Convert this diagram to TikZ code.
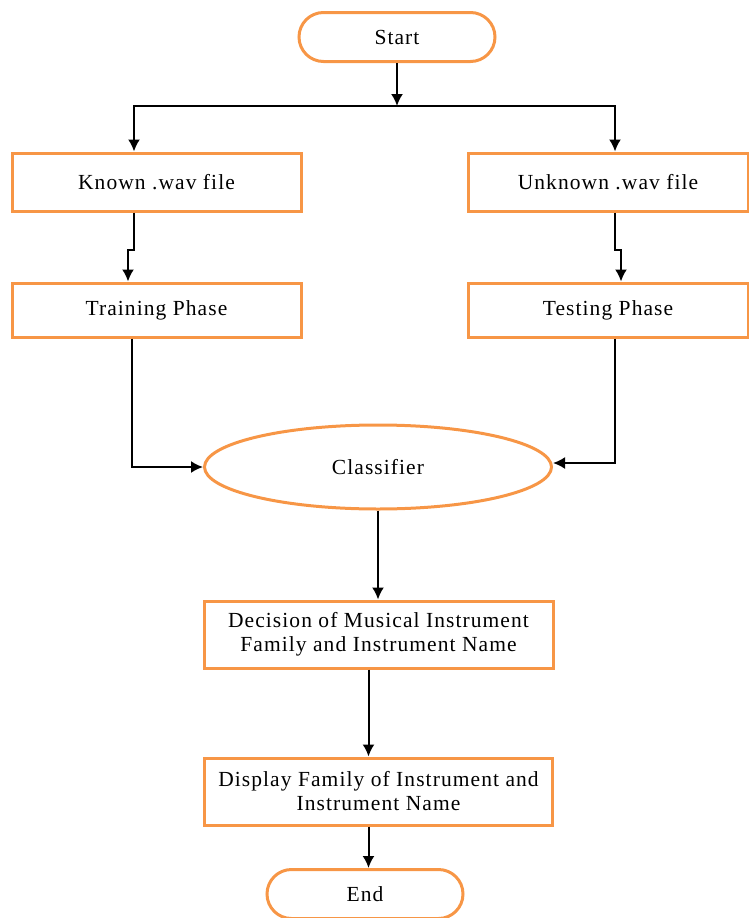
\documentclass[tikz,border=0pt]{standalone}
\usepackage{fontspec}
\setmainfont{Liberation Serif}[LetterSpace=5]
\usepackage{tikz}
\usetikzlibrary{arrows.meta}
\usetikzlibrary{shapes}
\definecolor{boxorange}{RGB}{247,150,70}

\begin{document}
\begin{tikzpicture}[x=1pt, y=-1pt]
\tikzstyle{terminal} = [rounded rectangle, draw=boxorange, line width=3pt, minimum width=196pt, minimum height=49pt, inner sep=0pt]
\tikzstyle{process} = [rectangle, draw=boxorange, line width=3pt, inner sep=0pt, align=center]
\tikzstyle{decide} = [ellipse, draw=boxorange, line width=3pt, minimum width=347pt, minimum height=84pt, inner sep=0pt]
\tikzstyle{flow} = [draw=black, line width=2pt, -{Latex[length=12pt,width=12pt]}]

\useasboundingbox (0,0) rectangle (749,918);
\fontsize{21.5pt}{24pt}\selectfont

\node[terminal] (start) at (397,37) {Start};
\node[process, minimum width=289pt, minimum height=58pt] (known) at (156.5,182) {Known .wav file};
\node[process, minimum width=280pt, minimum height=58pt] (unknown) at (608,182) {Unknown .wav file};
\node[process, minimum width=289pt, minimum height=54pt] (training) at (156.5,310) {Training Phase};
\node[process, minimum width=280pt, minimum height=54pt] (testing) at (608,310) {Testing Phase};
\node[decide] (classifier) at (378,467) {Classifier};
\node[process, minimum width=349pt, minimum height=67pt] (decision) at (378.5,634.5) {Decision of Musical Instrument\\Family and Instrument Name};
\node[process, minimum width=348pt, minimum height=67pt] (display) at (378.5,791.5) {Display Family of Instrument and\\Instrument Name};
\node[terminal] (end) at (365,894) {End};

\coordinate (split) at (397,106);

\path[flow] (start) -- (split);
\path[flow] (split) -| ([xshift=-22.5pt]known.north);
\path[flow] (split) -| ([xshift=7pt]unknown.north);
\path[flow] ([xshift=-22.5pt]known.south) -- ++(0,37) -| ([xshift=-28.5pt]training.north);
\path[flow] ([xshift=7pt]unknown.south) -- ++(0,37) -| ([xshift=13pt]testing.north);
\path[flow] ([xshift=-24.5pt]training.south) |- (classifier.west);
\path[flow] ([xshift=7pt]testing.south) |- ([yshift=4pt]classifier.east);
\path[flow] (classifier.south) -- (classifier.south |- decision.north);
\path[flow] ([xshift=-10pt]decision.south) -- ([xshift=-10pt]display.north);
\path[flow] ([xshift=-10pt]display.south) -- ([xshift=3.5pt]end.north);
\end{tikzpicture}
\end{document}
